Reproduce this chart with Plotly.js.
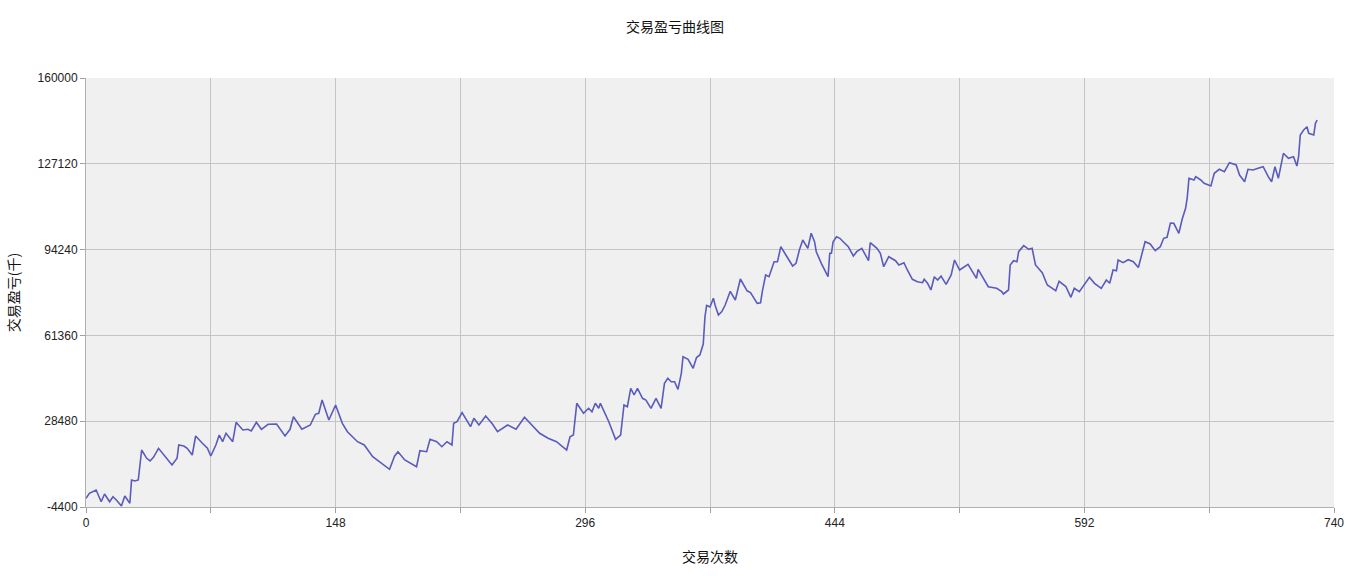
<!DOCTYPE html>
<html>
<head>
<meta charset="utf-8">
<script src="https://cdn.plot.ly/plotly-3.0.1.min.js"></script>
<style>html,body{margin:0;padding:0;background:#fff;}#chart{width:1350px;height:576px;}</style>
</head>
<body>
<div id="chart"></div>
<script>
const tradeIndex = [0,2,6,9,11,14,16,18,21,23,26,27,29,31,33,36,38,40,43,46,51,54,55,58,60,63,65,69,72,74,77,79,81,83,87,89,93,96,98,101,104,108,113,118,121,123,128,133,136,138,140,144,146,148,152,155,161,165,170,180,183,185,189,196,198,202,204,208,211,214,217,218,220,223,228,230,233,237,241,244,250,255,260,265,269,274,279,285,287,289,291,295,298,300,302,304,305,310,314,317,319,321,323,325,327,330,332,335,338,341,343,345,347,349,351,353,354,357,360,362,364,366,367,368,370,372,373,375,377,379,382,385,388,392,394,398,400,401,403,405,408,410,412,415,419,421,423,425,428,430,432,433,436,440,441,442,443,445,447,449,452,455,457,460,462,464,465,469,471,473,476,480,482,485,487,490,493,496,497,499,501,503,505,507,510,513,515,518,523,528,529,535,540,543,544,547,548,550,552,553,556,559,561,563,567,570,573,575,577,581,584,586,589,595,598,602,605,607,609,611,612,615,618,621,624,628,631,634,637,639,641,643,645,648,650,652,653,654,657,658,661,663,667,669,672,675,678,682,684,687,689,692,695,698,701,703,705,707,710,713,716,718,719,720,722,724,725,728,729,730];
const profit = [-1070,850,2115,-2370,582,-2370,-453,-1717,-4017,-185,-2982,5947,5564,5947,17444,14263,13228,14646,18095,15527,11695,14263,19360,18976,18095,15527,22809,20011,18095,15144,19360,23192,20624,23843,20624,28059,25108,25376,24725,28059,25376,27292,27407,22809,25376,30205,25376,27024,31124,31508,36605,28940,32121,34688,27676,24457,20624,19360,14876,10047,15144,16792,13611,11044,17175,16792,21544,20624,18708,20624,19360,27676,28289,31738,26373,29592,27024,30473,27407,24457,27024,25376,29975,26373,23843,21927,20624,17444,22540,23192,35340,31508,33424,32121,35340,33424,35340,28289,21544,23192,34688,34037,41088,38521,41088,37256,36605,33424,37256,33424,43004,44920,43618,43618,40705,46837,53198,52202,48753,52891,53849,58065,68412,72819,72244,75578,73010,69178,70520,73010,78259,74927,82974,78452,77801,73662,73892,78107,84507,83856,89604,89604,95352,92171,87956,88991,94088,97920,94739,100487,97268,93436,88991,83856,92823,92823,97268,99184,98571,97268,95352,91788,93436,94739,92171,89987,96885,94739,92823,87688,91520,89987,88339,89221,86423,82859,81940,81556,82859,81326,78759,83856,82591,84124,80943,84507,90255,86423,88607,83243,86691,80023,79410,78107,77226,78759,88339,89987,89604,93436,95735,94356,94739,88339,85388,80675,79410,78491,82093,80100,75961,79410,78107,83626,81326,79410,82591,81326,86423,86155,90255,89221,90370,89604,87381,97268,96387,93819,95352,98571,98954,104434,104319,100487,105967,110068,114283,121564,120913,122178,120913,119648,118614,123481,125013,124094,127543,126661,122829,120262,125013,124745,125396,126010,122178,120262,126010,121564,131145,129229,129842,126278,129842,138158,140074,141339,138809,138158,142642,143906];

const xTickVals = [0,74,148,222,296,370,444,518,592,666,740];
const xTickText = ['0','','148','','296','','444','','592','','740'];
const yTickVals = [-4400,28480,61360,94240,127120,160000];
const yTickText = ['-4400','28480','61360','94240','127120','160000'];

const chartTitle = '交易盈亏曲线图';
const xTitle = '交易次数';
const yTitle = '交易盈亏(千)';

const trace = {
  x: tradeIndex,
  y: profit,
  type: 'scatter',
  mode: 'lines',
  line: {color: '#5b5bbd', width: 1.6},
  hoverinfo: 'x+y'
};

const cjk = '"Noto Sans CJK SC", "Noto Sans", sans-serif';
const tickFont = {family: '"Liberation Sans", Arial, sans-serif', size: 12, color: '#222'};

const layout = {
  width: 1350,
  height: 576,
  margin: {l: 86, r: 16, t: 78, b: 69},
  paper_bgcolor: '#ffffff',
  plot_bgcolor: '#f0f0f0',
  showlegend: false,
  title: {text: chartTitle, font: {family: cjk, size: 14, color: '#111'}, x: 0.5, xanchor: 'center', y: 0.953, yanchor: 'middle'},
  xaxis: {
    range: [0, 740],
    tickmode: 'array',
    tickvals: xTickVals,
    ticktext: xTickText,
    showgrid: true,
    gridcolor: '#c4c4c4',
    gridwidth: 1,
    zeroline: false,
    showline: true,
    linecolor: '#b0b0b0',
    ticks: 'outside',
    ticklen: 5,
    tickcolor: '#a0a0a0',
    tickfont: tickFont,
    title: {text: xTitle, font: {family: cjk, size: 14, color: '#111'}, standoff: 22}
  },
  yaxis: {
    range: [-4400, 160000],
    tickmode: 'array',
    tickvals: yTickVals,
    ticktext: yTickText,
    showgrid: true,
    gridcolor: '#c4c4c4',
    gridwidth: 1,
    zeroline: false,
    showline: true,
    linecolor: '#b0b0b0',
    ticks: 'outside',
    ticklen: 5,
    tickcolor: '#a0a0a0',
    tickfont: tickFont,
    title: {text: yTitle, font: {family: cjk, size: 14, color: '#111'}, standoff: 14}
  }
};

Plotly.newPlot('chart', [trace], layout, {displayModeBar: false, staticPlot: true});
</script>
</body>
</html>
